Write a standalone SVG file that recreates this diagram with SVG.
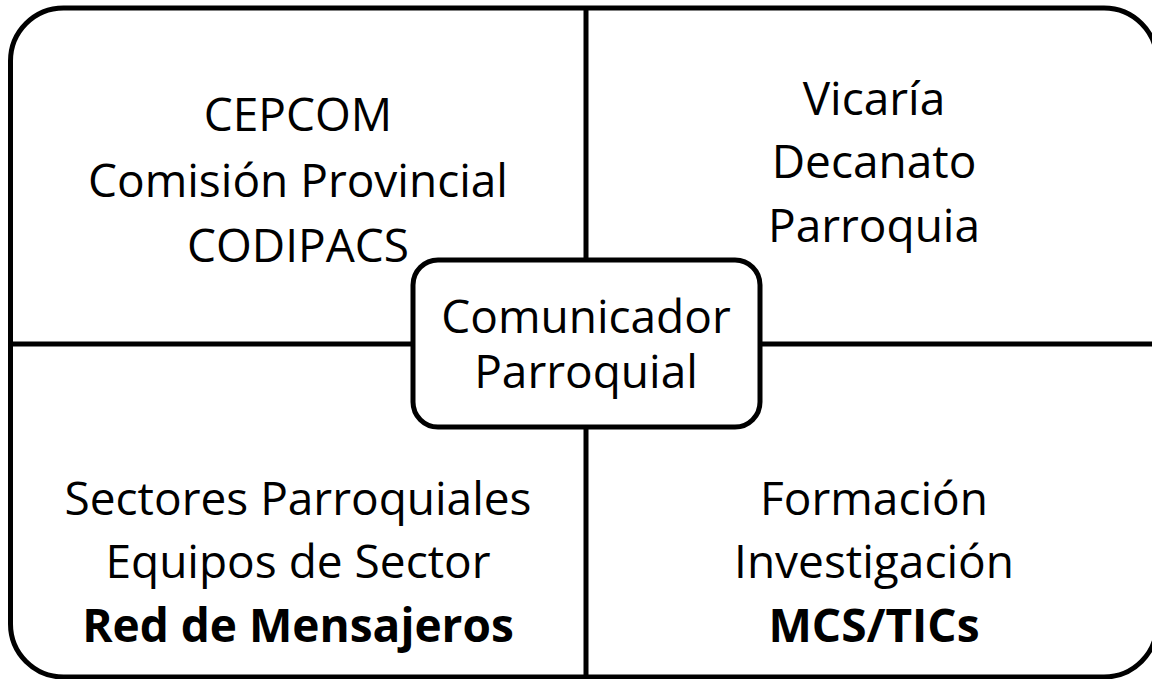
<svg xmlns="http://www.w3.org/2000/svg" width="1152" height="679" viewBox="0 0 1152 679">
<style>
.frame{fill:none;stroke:#000;stroke-width:5}
.line{stroke:#000;stroke-width:5;fill:none}
.box{fill:#fff;stroke:#000;stroke-width:5}
text{font-family:"Open Sans","Liberation Sans",sans-serif;font-size:46px;fill:#000;text-anchor:middle}
.b{font-weight:bold}
</style>
<rect width="1152" height="679" fill="#fff"/>
<g id="connectors">
<line class="line" x1="586" y1="8" x2="586" y2="677"/>
<line class="line" x1="10.5" y1="344" x2="1157" y2="344"/>
</g>
<rect id="frame" class="frame" x="10.5" y="8" width="1146.5" height="669" rx="53" ry="53"/>
<g id="q1">
<text x="298" y="131">CEPCOM</text>
<text x="298" y="197">Comisión Provincial</text>
<text x="298" y="262">CODIPACS</text>
</g>
<g id="q2">
<text x="874" y="115">Vicaría</text>
<text x="874" y="178">Decanato</text>
<text x="874" y="242">Parroquia</text>
</g>
<g id="q3">
<text x="298" y="515">Sectores Parroquiales</text>
<text x="298" y="578">Equipos de Sector</text>
<text x="298" y="642" class="b">Red de Mensajeros</text>
</g>
<g id="q4">
<text x="874" y="515">Formación</text>
<text x="874" y="578">Investigación</text>
<text x="874" y="642" class="b">MCS/TICs</text>
</g>
<g id="center">
<rect class="box" x="413" y="260" width="347" height="167" rx="25" ry="25"/>
<text x="586" y="333">Comunicador</text>
<text x="586" y="388">Parroquial</text>
</g>
</svg>
